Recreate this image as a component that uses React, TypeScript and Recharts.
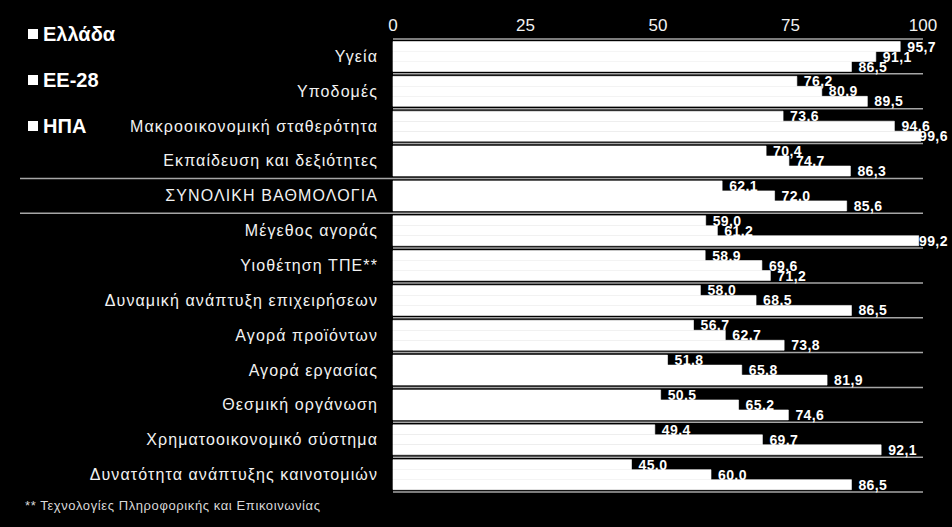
import { BarChart, Bar, XAxis, YAxis, CartesianGrid, Legend, LabelList } from "recharts";

// Κατηγορίες (από πάνω προς τα κάτω)
const categories = [
  "Υγεία",
  "Υποδομές",
  "Μακροοικονομική σταθερότητα",
  "Εκπαίδευση και δεξιότητες",
  "ΣΥΝΟΛΙΚΗ ΒΑΘΜΟΛΟΓΙΑ",
  "Μέγεθος αγοράς",
  "Υιοθέτηση ΤΠΕ**",
  "Δυναμική ανάπτυξη επιχειρήσεων",
  "Αγορά προϊόντων",
  "Αγορά εργασίας",
  "Θεσμική οργάνωση",
  "Χρηματοοικονομικό σύστημα",
  "Δυνατότητα ανάπτυξης καινοτομιών",
];

const greece = [95.7, 76.2, 73.6, 70.4, 62.1, 59.0, 58.9, 58.0, 56.7, 51.8, 50.5, 49.4, 45.0];
const eu28 = [91.1, 80.9, 94.6, 74.7, 72.0, 61.2, 69.6, 68.5, 62.7, 65.8, 65.2, 69.7, 60.0];
const usa = [86.5, 89.5, 99.6, 86.3, 85.6, 99.2, 71.2, 86.5, 73.8, 81.9, 74.6, 92.1, 86.5];

const seriesNames = ["Ελλάδα", "ΕΕ-28", "ΗΠΑ"];
const xTicks = [0, 25, 50, 75, 100];
const totalCategory = "ΣΥΝΟΛΙΚΗ ΒΑΘΜΟΛΟΓΙΑ";
const footnote = "** Τεχνολογίες Πληροφορικής και Επικοινωνίας";

const data = categories.map((name, i) => ({
  name,
  gr: greece[i],
  eu: eu28[i],
  us: usa[i],
}));

const W = 952;
const H = 527;
const TOP = 39;
const BOTTOM = 35;
const Y_W = 393;
const RIGHT = 29;
const BAND = (H - TOP - BOTTOM) / categories.length;
const FONT = "'Liberation Sans', Arial, sans-serif";

const fmt = (v: number) => v.toFixed(1).replace(".", ",");

const ValueLabel = (props: any) => {
  const { x, y, width, height, value } = props;
  const tx = Math.min(x + width + 7, 919);
  return (
    <text
      x={tx}
      y={y + height / 2}
      dominantBaseline="central"
      fill="#ffffff"
      fontFamily={FONT}
      fontWeight="bold"
      fontSize={14}
      letterSpacing={0.4}
    >
      {fmt(value)}
    </text>
  );
};

const CategoryTick = (props: any) => {
  const { y, payload } = props;
  const isTotal = payload.value === totalCategory;
  return (
    <g>
      {isTotal && (
        <>
          <line x1={20} x2={Y_W} y1={y - BAND / 2} y2={y - BAND / 2} stroke="#a6a6a6" strokeWidth={1.5} />
          <line x1={20} x2={Y_W} y1={y + BAND / 2} y2={y + BAND / 2} stroke="#a6a6a6" strokeWidth={1.5} />
        </>
      )}
      <text
        x={Y_W - 15}
        y={y}
        textAnchor="end"
        dominantBaseline="central"
        fill="#f2f2f2"
        fontFamily={FONT}
        fontSize={16}
        letterSpacing={1.1}
      >
        {payload.value}
      </text>
    </g>
  );
};

const LegendBox = (props: any) => {
  const items = [...(props.payload || [])].sort(
    (a: any, b: any) => seriesNames.indexOf(a.value) - seriesNames.indexOf(b.value)
  );
  return (
    <div style={{ fontFamily: FONT }}>
      {items.map((entry: any) => (
        <div
          key={entry.value}
          style={{
            display: "flex",
            alignItems: "center",
            height: 46,
            color: "#ffffff",
            fontWeight: "bold",
            fontSize: 20,
          }}
        >
          <span style={{ width: 10, height: 10, background: "#ffffff", marginRight: 5, display: "inline-block" }} />
          {entry.value}
        </div>
      ))}
    </div>
  );
};

export default function App() {
  return (
    <div style={{ position: "relative", width: W, height: H, background: "#000000" }}>
      <style>{"body{margin:0;background:#000}"}</style>
      <BarChart
        width={W}
        height={H}
        data={data}
        layout="vertical"
        margin={{ top: 0, right: RIGHT, bottom: BOTTOM, left: 0 }}
        barCategoryGap={2.5}
        barGap={0}
      >
        <CartesianGrid
          vertical={false}
          stroke="#a6a6a6"
          strokeWidth={1.5}
          horizontalCoordinatesGenerator={({ offset }: any) =>
            categories.map((_, i) => offset.top + i * BAND).concat(offset.top + offset.height)
          }
        />
        <XAxis
          type="number"
          orientation="top"
          domain={[0, 100]}
          ticks={xTicks}
          height={TOP}
          axisLine={false}
          tickLine={false}
          tick={{ fill: "#f2f2f2", fontSize: 17, fontFamily: FONT }}
        />
        <YAxis
          type="category"
          dataKey="name"
          width={Y_W}
          axisLine={false}
          tickLine={false}
          interval={0}
          tick={<CategoryTick />}
        />
        <Legend
          layout="vertical"
          align="center"
          verticalAlign="middle"
          content={<LegendBox />}
          wrapperStyle={{ position: "absolute", left: 28, top: 11, width: 150, height: 140 }}
        />
        <Bar dataKey="gr" name={seriesNames[0]} fill="#ffffff" stroke="#ffffff" strokeWidth={0.6} isAnimationActive={false}>
          <LabelList dataKey="gr" content={<ValueLabel />} />
        </Bar>
        <Bar dataKey="eu" name={seriesNames[1]} fill="#ffffff" stroke="#ffffff" strokeWidth={0.6} isAnimationActive={false}>
          <LabelList dataKey="eu" content={<ValueLabel />} />
        </Bar>
        <Bar dataKey="us" name={seriesNames[2]} fill="#ffffff" stroke="#ffffff" strokeWidth={0.6} isAnimationActive={false}>
          <LabelList dataKey="us" content={<ValueLabel />} />
        </Bar>
      </BarChart>
      <div
        style={{
          position: "absolute",
          left: 25,
          top: 498,
          fontFamily: FONT,
          fontSize: 13,
          letterSpacing: 0.6,
          color: "#d9d9d9",
        }}
      >
        {footnote}
      </div>
    </div>
  );
}
